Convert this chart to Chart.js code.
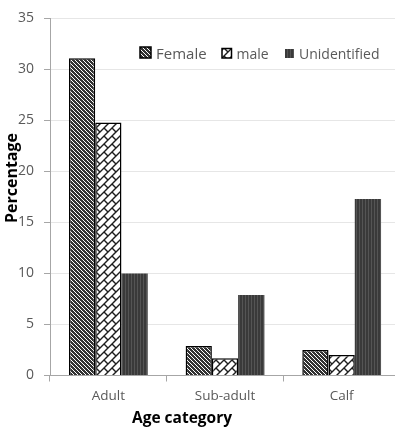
<!DOCTYPE html>
<html>
<head>
<meta charset="utf-8">
<script src="https://cdn.jsdelivr.net/npm/chart.js@4.4.1/dist/chart.umd.min.js"></script>
<style>
  html, body { margin: 0; padding: 0; background: #fff; overflow: hidden; }
  #wrap { width: 400px; height: 430px; }
</style>
</head>
<body>
<div id="wrap"><canvas id="c" width="400" height="430"></canvas></div>
<script>
// Age categories and the share of each sex within them (%)
const categories = ['Adult', 'Sub-adult', 'Calf'];
const seriesNames = ['Female', 'male', 'Unidentified'];
const female = [31.1, 2.9, 2.5];
const male = [24.8, 1.7, 2.0];
const unidentified = [10.0, 7.9, 17.3];
const yTicks = [0, 5, 10, 15, 20, 25, 30, 35];

const FONT = '"Open Sans", "Liberation Sans", sans-serif';
const GREY_TEXT = '#595959';
const AXIS_GREY = '#a6a6a6';

const ctx0 = document.getElementById('c').getContext('2d');

// dense downward diagonal stripes
const femaleFill = (() => {
  const cv = document.createElement('canvas');
  cv.width = 4; cv.height = 4;
  const g = cv.getContext('2d');
  g.fillStyle = '#ffffff'; g.fillRect(0, 0, 4, 4);
  g.fillStyle = '#333333';
  for (let i = 0; i < 4; i++) {
    g.fillRect(i, i, 1, 1);
    g.fillRect((i + 1) % 4, i, 1, 1);
    g.fillRect((i + 2) % 4, i, 1, 1);
  }
  return ctx0.createPattern(cv, 'repeat');
})();

// diagonal brick
const maleFill = (() => {
  const cv = document.createElement('canvas');
  cv.width = 8; cv.height = 8;
  const g = cv.getContext('2d');
  g.fillStyle = '#ffffff'; g.fillRect(0, 0, 8, 8);
  g.strokeStyle = '#1e1e1e'; g.lineWidth = 1.4;
  g.beginPath();
  g.moveTo(-1, 9); g.lineTo(9, -1);
  g.moveTo(-1, 1); g.lineTo(1, -1);
  g.moveTo(7, 9); g.lineTo(9, 7);
  g.moveTo(0, 0); g.lineTo(4, 4);
  g.stroke();
  return ctx0.createPattern(cv, 'repeat');
})();

// dark vertical
const unidFill = (() => {
  const cv = document.createElement('canvas');
  cv.width = 3; cv.height = 2;
  const g = cv.getContext('2d');
  g.fillStyle = '#3a3a3a'; g.fillRect(0, 0, 3, 2);
  g.fillStyle = '#555555'; g.fillRect(2, 0, 1, 2);
  return ctx0.createPattern(cv, 'repeat');
})();

// Legend drawn inside the plot area, plus the two axis titles
const extras = {
  id: 'extras',
  afterDraw(chart) {
    const c = chart.ctx;
    c.save();
    const items = [
      { x: 140, box: 11, size: 15 },
      { x: 222, box: 9.5, size: 14 },
      { x: 285, box: 9, size: 14 }
    ];
    chart.data.datasets.forEach((ds, i) => {
      const it = items[i];
      const by = 58 - it.box;
      c.fillStyle = ds.backgroundColor;
      c.fillRect(it.x, by, it.box, it.box);
      if (ds.borderWidth) {
        c.strokeStyle = '#000'; c.lineWidth = 1.5;
        c.strokeRect(it.x, by, it.box, it.box);
      }
      c.font = it.size + 'px ' + FONT;
      c.fillStyle = GREY_TEXT;
      c.textBaseline = 'alphabetic';
      c.textAlign = 'left';
      c.fillText(ds.label, it.x + it.box + 5, 58.5);
    });
    // axis titles
    c.fillStyle = '#000';
    c.font = 'bold 15.5px ' + FONT;
    c.textAlign = 'center';
    c.textBaseline = 'middle';
    c.fillText('Age category', 182, 419);
    c.translate(12, 178);
    c.rotate(-Math.PI / 2);
    c.font = 'bold 16px ' + FONT;
    c.fillText('Percentage', 0, 0);
    c.restore();
  }
};

new Chart(document.getElementById('c'), {
  type: 'bar',
  data: {
    labels: categories,
    datasets: [
      { label: seriesNames[0], data: female, backgroundColor: femaleFill, borderColor: '#000', borderWidth: 1.5 },
      { label: seriesNames[1], data: male, backgroundColor: maleFill, borderColor: '#000', borderWidth: 1.5 },
      { label: seriesNames[2], data: unidentified, backgroundColor: unidFill, borderWidth: 0 }
    ]
  },
  options: {
    responsive: false,
    animation: false,
    devicePixelRatio: 1,
    layout: { padding: { top: 17, right: 0, bottom: 0, left: 0 } },
    datasets: { bar: { categoryPercentage: 0.675, barPercentage: 1 } },
    plugins: { legend: { display: false }, tooltip: { enabled: false } },
    scales: {
      x: {
        grid: { display: true, drawOnChartArea: false, offset: true, tickLength: 6, tickColor: AXIS_GREY },
        border: { color: AXIS_GREY },
        ticks: { font: { family: FONT, size: 13.5 }, color: GREY_TEXT, padding: 7 },
        afterFit(s) { s.height = 54.5; }
      },
      y: {
        min: 0, max: 35,
        afterBuildTicks(s) { s.ticks = yTicks.map(v => ({ value: v })); },
        grid: { color: '#e6e6e6', tickColor: AXIS_GREY, tickLength: 6 },
        border: { color: AXIS_GREY },
        ticks: { font: { family: FONT, size: 14 }, color: GREY_TEXT, padding: 10 },
        afterFit(s) { s.width = 50; }
      }
    }
  },
  plugins: [extras]
});
</script>
</body>
</html>
